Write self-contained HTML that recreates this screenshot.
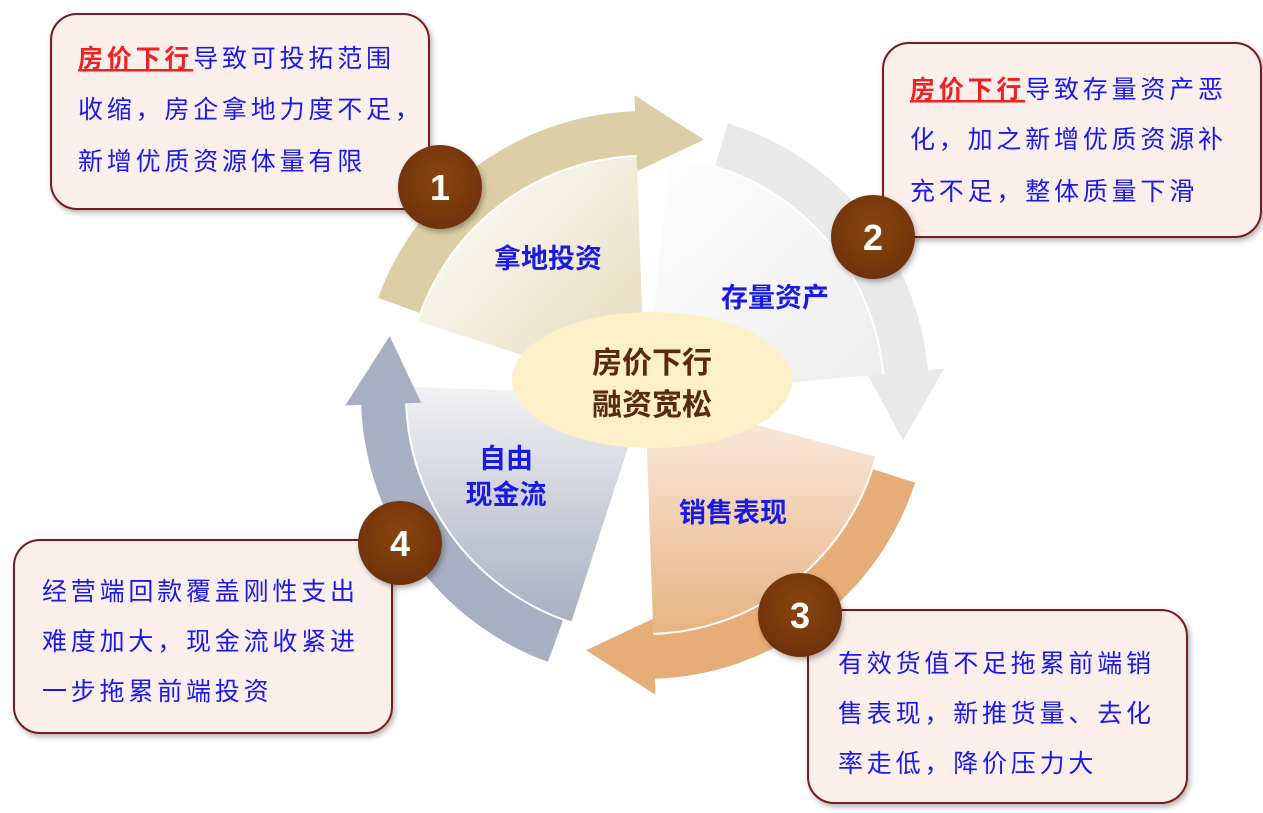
<!DOCTYPE html>
<html><head><meta charset="utf-8"><style>
html,body{margin:0;padding:0;background:#fff;width:1263px;height:813px;overflow:hidden}
svg{display:block}
text{font-family:"Liberation Sans","Noto Sans CJK SC",sans-serif}
.bt{font-size:25px;fill:#1a1aee;letter-spacing:3.8px}
.lb{font-size:27px;font-weight:bold;fill:#1a1ae6;text-anchor:middle}
.num{font-size:36px;font-weight:bold;fill:#fff;text-anchor:middle}
</style></head><body>
<svg width="1263" height="813" viewBox="0 0 1263 813" xmlns="http://www.w3.org/2000/svg">
<defs>
<linearGradient id="gTL" x1="0" y1="0" x2="1" y2="1"><stop offset="0" stop-color="#ffffff"/><stop offset="1" stop-color="#e4d8b6"/></linearGradient>
<linearGradient id="gTR" x1="0" y1="0" x2="1" y2="1"><stop offset="0" stop-color="#ffffff"/><stop offset="1" stop-color="#ececec"/></linearGradient>
<linearGradient id="gBR" x1="0" y1="0" x2="0" y2="1"><stop offset="0" stop-color="#fbeee6"/><stop offset="1" stop-color="#e8b382"/></linearGradient>
<linearGradient id="gBL" x1="0" y1="0" x2="0" y2="1"><stop offset="0" stop-color="#f2f2f4"/><stop offset="1" stop-color="#a9afc2"/></linearGradient>
<radialGradient id="gC" cx="0.5" cy="0.4" r="0.6"><stop offset="0" stop-color="#8a4510"/><stop offset="1" stop-color="#6e320a"/></radialGradient>
<filter id="sh" x="-20%" y="-20%" width="140%" height="140%"><feDropShadow dx="2" dy="3" stdDeviation="3" flood-color="#000" flood-opacity="0.3"/></filter>
</defs>

<!-- sectors -->
<path d="M645,395 L418.6,321.5 A238,238 0 0 1 636.7,157.1 Z" fill="url(#gTL)"/>
<path d="M645,395 L669.9,158.3 A238,238 0 0 1 882.1,374.3 Z" fill="url(#gTR)"/>
<path d="M645,395 L874.9,456.6 A238,238 0 0 1 653.3,632.9 Z" fill="url(#gBR)"/>
<path d="M645,395 L571.5,621.4 A238,238 0 0 1 407.1,386.7 Z" fill="url(#gBL)"/>

<!-- arrows -->
<path d="M378.1,297.9 A284,284 0 0 1 635.1,111.2 L634.5,95.2 L703.9,139.7 L637.2,171.1 L636.6,155.1 A240,240 0 0 0 419.5,312.9 Z" fill="#dccfa5"/>
<path d="M728.0,123.4 A284,284 0 0 1 927.9,370.2 L943.9,368.8 L903.0,440.5 L868.1,375.5 L884.1,374.1 A240,240 0 0 0 715.2,165.5 Z" fill="#e9e9e9"/>
<path d="M915.1,482.8 A284,284 0 0 1 654.9,678.8 L655.5,694.8 L586.1,650.3 L652.8,618.9 L653.4,634.9 A240,240 0 0 0 873.3,469.2 Z" fill="#e7ad78"/>
<path d="M547.9,661.9 A284,284 0 0 1 361.2,404.9 L345.2,405.5 L389.7,336.1 L421.1,402.8 L405.1,403.4 A240,240 0 0 0 562.9,620.5 Z" fill="#a9afc2"/>

<!-- center -->
<ellipse cx="652" cy="380" rx="140" ry="68" fill="#fdf0c8"/>
<text x="652" y="373" font-size="30" font-weight="bold" fill="#5a2a10" text-anchor="middle">房价下行</text>
<text x="652" y="415" font-size="30" font-weight="bold" fill="#5a2a10" text-anchor="middle">融资宽松</text>

<text class="lb" x="548" y="268">拿地投资</text>
<text class="lb" x="775" y="307">存量资产</text>
<text class="lb" x="506" y="468">自由</text>
<text class="lb" x="506" y="504">现金流</text>
<text class="lb" x="733" y="522">销售表现</text>

<!-- boxes -->
<rect x="51" y="14" width="378" height="195" rx="26" fill="#fbefec" stroke="#7a1a1a" stroke-width="2" filter="url(#sh)"/>
<text class="bt" x="78" y="67"><tspan fill="#ee2222" font-weight="bold" text-decoration="underline">房价下行</tspan>导致可投拓范围</text>
<text class="bt" x="78" y="118">收缩，房企拿地力度不足，</text>
<text class="bt" x="78" y="170">新增优质资源体量有限</text>

<rect x="883" y="43" width="378" height="194" rx="26" fill="#fbefec" stroke="#7a1a1a" stroke-width="2" filter="url(#sh)"/>
<text class="bt" x="910" y="98"><tspan fill="#ee2222" font-weight="bold" text-decoration="underline">房价下行</tspan>导致存量资产恶</text>
<text class="bt" x="910" y="148">化，加之新增优质资源补</text>
<text class="bt" x="910" y="200">充不足，整体质量下滑</text>

<rect x="808" y="610" width="379" height="193" rx="26" fill="#fbefec" stroke="#7a1a1a" stroke-width="2" filter="url(#sh)"/>
<text class="bt" x="838" y="672">有效货值不足拖累前端销</text>
<text class="bt" x="838" y="722">售表现，新推货量、去化</text>
<text class="bt" x="838" y="772">率走低，降价压力大</text>

<rect x="14" y="540" width="378" height="193" rx="26" fill="#fbefec" stroke="#7a1a1a" stroke-width="2" filter="url(#sh)"/>
<text class="bt" x="42" y="600">经营端回款覆盖刚性支出</text>
<text class="bt" x="42" y="650">难度加大，现金流收紧进</text>
<text class="bt" x="42" y="700">一步拖累前端投资</text>

<!-- number circles -->
<circle cx="440" cy="187" r="42" fill="url(#gC)" filter="url(#sh)"/>
<text class="num" x="440" y="200">1</text>
<circle cx="873" cy="237" r="42" fill="url(#gC)" filter="url(#sh)"/>
<text class="num" x="873" y="250">2</text>
<circle cx="800" cy="615" r="42" fill="url(#gC)" filter="url(#sh)"/>
<text class="num" x="800" y="628">3</text>
<circle cx="400" cy="543" r="42" fill="url(#gC)" filter="url(#sh)"/>
<text class="num" x="400" y="556">4</text>
</svg>
</body></html>
